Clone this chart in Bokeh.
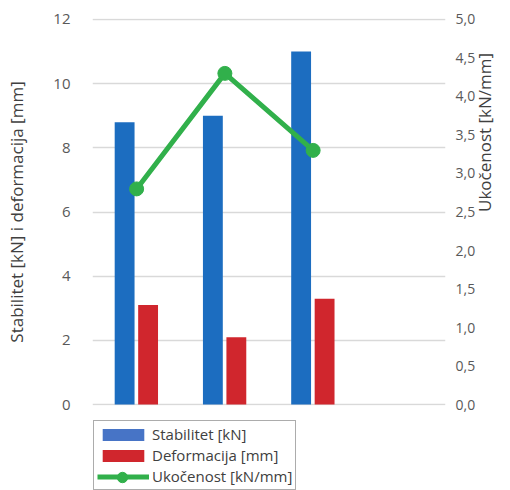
import math
from bokeh.plotting import figure
from bokeh.layouts import column
from bokeh.models import (Range1d, LinearAxis, FixedTicker, CustomJSTickFormatter,
                          Legend, LegendItem, ColumnDataSource, FactorRange)
from bokeh.transform import dodge
from bokeh.embed import file_html
from bokeh.resources import INLINE

# ---- data ----
categories = ["1", "2", "3"]
slots = ["1", "2", "3", "4"]          # fourth slot is empty in the original
stabilitet = [8.8, 9.0, 11.0]         # kN
deformacija = [3.1, 2.1, 3.3]         # mm
ukocenost = [2.8, 4.3, 3.3]           # kN/mm
left_ticks = [0, 2, 4, 6, 8, 10, 12]
right_ticks = [0.0, 0.5, 1.0, 1.5, 2.0, 2.5, 3.0, 3.5, 4.0, 4.5, 5.0]
left_label = "Stabilitet [kN] i deformacija [mm]"
right_label = "Ukočenost [kN/mm]"
series_names = ["Stabilitet [kN]", "Deformacija [mm]", "Ukočenost [kN/mm]"]

FONT = "Open Sans"
BLUE = "#1c6dc0"
BLUE_LEGEND = "#4774c6"
RED = "#d0262d"
GREEN = "#31b04b"
TICK_COLOR = "#595959"
LABEL_COLOR = "#404040"

W = 510
H_CHART, H_LEGEND = 418, 72
PAD = 0.03          # small range padding so the 0 and 12 grid lines are not clipped
LEFT_MAX = 12
RIGHT_MAX = 5
ratio = RIGHT_MAX / LEFT_MAX
BORDER_L, BORDER_R = 92, 65

src = ColumnDataSource(dict(cat=categories, s=stabilitet, d=deformacija, u=ukocenost))
x_range = FactorRange(*slots)
y_left = Range1d(-PAD, LEFT_MAX + PAD)
y_right = Range1d(-PAD * ratio, (LEFT_MAX + PAD) * ratio)


def add_series(fig, visible=True, blue=BLUE):
    b1 = fig.vbar(x=dodge("cat", -0.136, range=x_range), top="s", width=0.225, source=src,
                  fill_color=blue, line_color=None, visible=visible)
    b2 = fig.vbar(x=dodge("cat", 0.13, range=x_range), top="d", width=0.225, source=src,
                  fill_color=RED, line_color=None, visible=visible)
    ln = fig.line(x="cat", y="u", source=src, y_range_name="right", line_color=GREEN,
                  line_width=5, visible=visible)
    pt = fig.scatter(x="cat", y="u", source=src, y_range_name="right", size=14,
                     fill_color=GREEN, line_color=GREEN, visible=visible)
    return b1, b2, ln, pt


# ---------------- chart ----------------
p = figure(x_range=x_range, y_range=y_left,
           width=W, height=H_CHART, output_backend="svg", toolbar_location=None,
           x_axis_location=None, y_axis_location="left",
           min_border_left=BORDER_L, min_border_right=BORDER_R, min_border_top=18,
           min_border_bottom=H_CHART - 405)
p.outline_line_color = None
p.xgrid.visible = False
p.ygrid.ticker = FixedTicker(ticks=left_ticks)
p.ygrid.grid_line_color = "#d9d9d9"
p.ygrid.grid_line_width = 1.5
p.extra_y_ranges = {"right": y_right}

ya = p.yaxis[0]
ya.ticker = FixedTicker(ticks=left_ticks)
ya.axis_line_color = None
ya.major_tick_line_color = None
ya.minor_tick_line_color = None
ya.major_label_standoff = 16
ya.major_label_text_font = FONT
ya.major_label_text_font_size = "15px"
ya.major_label_text_color = TICK_COLOR
ya.axis_label = left_label
ya.axis_label_text_font = FONT
ya.axis_label_text_font_size = "17px"
ya.axis_label_text_font_style = "normal"
ya.axis_label_text_color = LABEL_COLOR
ya.axis_label_standoff = 22

ra = LinearAxis(y_range_name="right", ticker=FixedTicker(ticks=right_ticks),
                formatter=CustomJSTickFormatter(code="return tick.toFixed(1).replace('.', ',');"))
ra.axis_line_color = None
ra.major_tick_line_color = None
ra.minor_tick_line_color = None
ra.major_label_standoff = 4
ra.major_label_text_font = FONT
ra.major_label_text_font_size = "14px"
ra.major_label_text_color = TICK_COLOR
ra.axis_label = right_label
ra.axis_label_text_font = FONT
ra.axis_label_text_font_size = "17px"
ra.axis_label_text_font_style = "normal"
ra.axis_label_text_color = LABEL_COLOR
ra.axis_label_standoff = 6
try:
    ra.axis_label_orientation = math.pi / 2   # read bottom-to-top as in the original
except Exception:
    pass
p.add_layout(ra, "right")

add_series(p)

# ---------------- legend strip ----------------
q = figure(x_range=x_range, y_range=y_left, width=W, height=H_LEGEND,
           output_backend="svg", toolbar_location=None,
           x_axis_location=None, y_axis_location=None,
           min_border_left=BORDER_L, min_border_right=BORDER_R, min_border_top=0, min_border_bottom=0)
q.outline_line_color = None
q.xgrid.visible = False
q.ygrid.visible = False
q.extra_y_ranges = {"right": y_right}
lb1, lb2, lln, lpt = add_series(q, visible=False, blue=BLUE_LEGEND)

legend = Legend(items=[LegendItem(label=series_names[0], renderers=[lb1]),
                       LegendItem(label=series_names[1], renderers=[lb2]),
                       LegendItem(label=series_names[2], renderers=[lln])],
                location=(1, 0), margin=0, padding=3, spacing=1,
                label_height=20, glyph_height=15, glyph_width=52, label_standoff=3,
                label_text_font=FONT, label_text_font_size="15px", label_text_color=LABEL_COLOR,
                border_line_color="#595959", border_line_width=1,
                background_fill_color="white", background_fill_alpha=1.0,
                inactive_fill_alpha=0.0)
q.add_layout(legend)

# marker of the line entry, drawn on top of the legend line
marker_legend = Legend(items=[LegendItem(label=" ", renderers=[lpt])],
                       location=(17, 0), margin=0, padding=0, spacing=0,
                       label_height=20, glyph_height=26, glyph_width=26, label_standoff=0,
                       label_text_font_size="1px",
                       border_line_color=None, background_fill_alpha=0.0,
                       inactive_fill_alpha=0.0)
q.add_layout(marker_legend)

layout = column(p, q, spacing=0)
open("out.html", "w").write(file_html(layout, INLINE))
